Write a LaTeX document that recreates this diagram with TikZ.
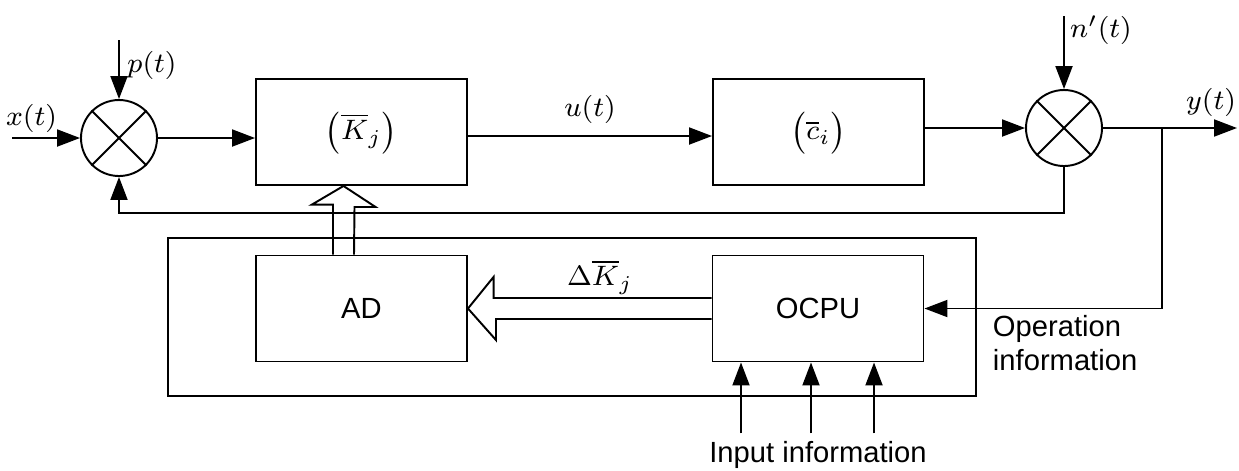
\documentclass[tikz,border=0pt]{standalone}
\usepackage{fontspec}
\setsansfont{Liberation Sans}
\usetikzlibrary{arrows.meta,positioning}
\tikzset{
  blk/.style={draw, minimum width=21.1mm, minimum height=10.6mm, inner sep=0pt,
    font=\fontsize{8.3}{9.7}\sffamily},
  sumj/.style={draw, circle, minimum size=7.6mm, inner sep=0pt},
  lbl/.style={inner sep=0pt, font=\fontsize{8.3}{9.7}\sffamily},
  arr/.style={-{Triangle[length=2.3mm,width=1.7mm]}},
}
\begin{document}
\begin{tikzpicture}[x=1mm,y=1mm,line width=0.55pt,
  every node/.append style={font=\fontsize{8.3}{9.7}\selectfont}]
\useasboundingbox (0,0) rectangle (123.9,-47);
% forward path
\node [sumj] (sumL) at (11.9,-13.8) {};
\node [blk] (K) at (36.15,-13.2) {$\bigl(\overline{K}_j\bigr)$};
\node [blk] (C) at (81.85,-13.2) {$\bigl(\overline{c}_i\bigr)$};
\node [sumj] (sumR) at (106.4,-12.8) {};
\foreach \s in {sumL,sumR} {
  \draw (\s.north west) -- (\s.south east);
  \draw (\s.north east) -- (\s.south west);
}
\coordinate (xin) at (1.2,-13.8);
\coordinate (pin) at (11.9,-4.0);
\coordinate (nin) at (106.4,-1.6);
\coordinate (yout) at (123.7,-12.8);
\coordinate (tap) at (116.2,-12.8);
\coordinate (fb) at (11.9,-21.3);
\node (xt) at (3.15,-11.8) {$x(t)$};
\node (pt) at (15.2,-6.5) {$p(t)$};
\node (nt) at (110.1,-3.0) {$n'(t)$};
\node (yt) at (121.1,-10.2) {$y(t)$};
\draw [arr] (xin) -- (sumL);
\draw [arr] (pin) -- (sumL);
\draw [arr] (sumL) -- (sumL -| K.west);
\draw [arr] ([yshift=-0.4mm]K.east) -- ([yshift=-0.4mm]C.west)
  node [midway, above] (ut) {$u(t)$};
\draw [arr] (sumR -| C.east) -- (sumR);
\draw [arr] (nin) -- (sumR);
\draw [arr] (sumR) -- (yout);
\draw [arr] (sumR) |- (fb) -- (sumL);
% adaptation loop
\node [draw, minimum width=80.8mm, minimum height=15.8mm, inner sep=0pt] (ctrl) at (57.2,-31.7) {};
\node [blk] (AD) at (36.15,-30.85) {AD};
\node [blk] (OCPU) at (81.8,-30.85) {OCPU};
\draw [arr] (tap) |- (OCPU);
\draw ([xshift=-2.85mm]AD.north) -- ++(0,5) -- ++(-2.1,0) -- ([xshift=-1.8mm]K.south)
  -- ++(3.2,-2.1) -- ++(-2.1,0) -- ([xshift=-0.75mm]AD.north);
\draw ([yshift=1.05mm]OCPU.west) -- ++(-21.8,0) -- ++(0,2.1) -- (AD.east)
  -- ++(2.8,-3.15) -- ++(0,2.1) -- ([yshift=-1.05mm]OCPU.west);
\node (dK) at (60.0,-27.7) {$\Delta\overline{K}_j$};
\foreach \dx [count=\i] in {-7.7,-0.7,5.6}
  \draw [arr] ([xshift=\dx mm, yshift=-7.1mm]OCPU.south) coordinate (in\i)
    -- ([xshift=\dx mm]OCPU.south);
\node [lbl] (inlbl) at (81.8,-45.5) {Input information};
\node [lbl, anchor=west, align=left] (oplbl) at (99.2,-34.3) {Operation\\information};
\end{tikzpicture}
\end{document}
